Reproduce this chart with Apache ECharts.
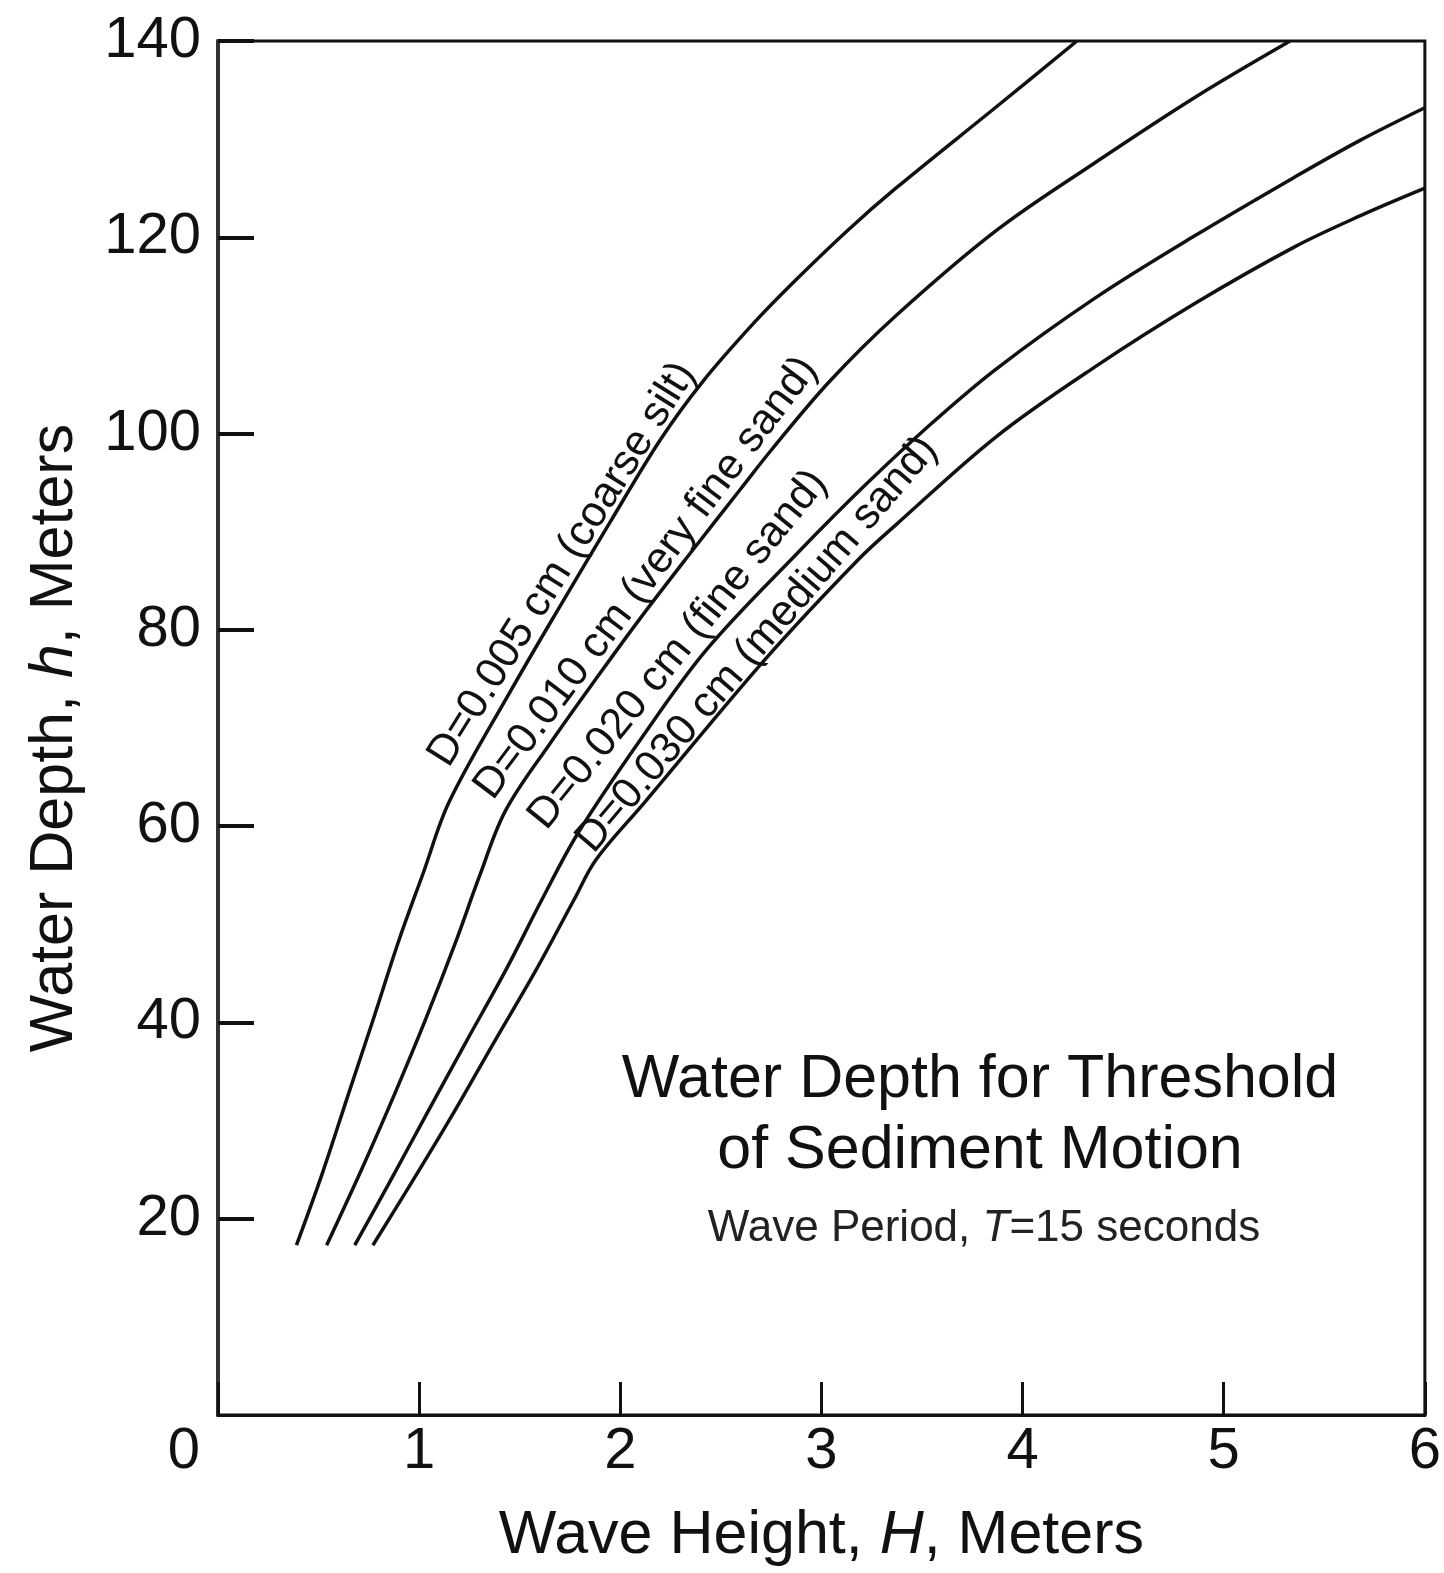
<!DOCTYPE html>
<html><head><meta charset="utf-8">
<script src="https://cdn.jsdelivr.net/npm/echarts@6/dist/echarts.min.js"></script>
<style>html,body{margin:0;padding:0;background:#fff}#c{width:1444px;height:1573px}</style>
</head><body><div id="c"></div>
<script>
const FONT = '"Liberation Sans", Arial, Helvetica, sans-serif';

// Curve names (labels written along each curve)
const curveNames = [
  'D=0.005 cm (coarse silt)',
  'D=0.010 cm (very fine sand)',
  'D=0.020 cm (fine sand)',
  'D=0.030 cm (medium sand)'
];

// Wave height H (m) and water depth h (m)
const H_005 = [0.39, 0.52, 0.65, 0.77, 0.90, 1.02, 1.15, 1.45, 1.70, 1.95, 2.20, 2.41, 2.67, 2.88, 3.13, 3.37, 3.87, 4.27];
const h_005 = [17.3, 24.7, 32.8, 40.2, 48.4, 55.2, 62.5, 73.6, 82.4, 91.0, 99.4, 105.3, 111.4, 115.8, 120.7, 125.0, 133.3, 140];

const H_010 = [0.54, 0.72, 0.88, 1.03, 1.18, 1.30, 1.43, 1.65, 1.90, 2.10, 2.34, 2.60, 2.75, 3.04, 3.37, 3.87, 4.36, 4.86, 5.33];
const h_010 = [17.3, 25.3, 32.8, 40.2, 48.1, 54.9, 61.6, 68.4, 75.6, 81.2, 87.6, 94.4, 98.3, 105.3, 112.0, 120.7, 127.6, 134.3, 140];

const H_020 = [0.68, 0.85, 1.03, 1.23, 1.43, 1.61, 1.79, 2.10, 2.43, 2.88, 3.21, 3.54, 3.87, 4.36, 4.86, 5.35, 5.68, 6.0];
const h_020 = [17.3, 23.6, 30.4, 37.9, 45.3, 52.5, 59.3, 68.8, 78.0, 87.8, 94.6, 100.9, 106.6, 113.8, 120.2, 126.1, 129.9, 133.2];

const H_030 = [0.77, 0.96, 1.16, 1.37, 1.58, 1.77, 1.88, 2.12, 2.72, 3.18, 3.37, 3.87, 4.36, 4.86, 5.35, 5.68, 6.0];
const h_030 = [17.3, 23.6, 30.4, 37.9, 45.3, 52.5, 56.6, 62.4, 77.0, 87.1, 90.7, 99.7, 106.8, 113.3, 119.0, 122.2, 125.0];

// Axis ranges / ticks
const xRange = [0, 6], xStep = 1;
const yRange = [0, 140], yStep = 20;

// Where each curve label starts (data coords), its angle (deg) and its gap to the curve (px)
const labelStart = [[1.157, 65.7], [1.40, 62.0], [1.642, 59.3], [1.899, 56.55]];
const labelAngle = [58, 53, 51, 49.5];
const labelGap = [0, 6, 0, 6];

const titleLines = ['Water Depth for Threshold', 'of Sediment Motion'];

const curvesH = [H_005, H_010, H_020, H_030];
const curvesh = [h_005, h_010, h_020, h_030];

const chart = echarts.init(document.getElementById('c'), null, {renderer: 'canvas'});
const INK = '#111';

const option = {
  animation: false,
  backgroundColor: '#fff',
  grid: {left: 218, right: 13, top: 41, bottom: 158, show: true, borderColor: INK, borderWidth: 3, containLabel: false},
  xAxis: {
    type: 'value', min: xRange[0], max: xRange[1], interval: xStep,
    name: '{n|Wave Height, }{i|H}{n|, Meters}', nameLocation: 'middle', nameGap: 91,
    nameTextStyle: {fontFamily: FONT, fontSize: 61, color: INK,
      rich: {n: {fontFamily: FONT, fontSize: 61, color: INK}, i: {fontFamily: FONT, fontSize: 61, color: INK, fontStyle: 'italic'}}},
    axisLine: {show: true, onZero: false, lineStyle: {color: INK, width: 3}},
    axisTick: {show: true, inside: true, length: 33, lineStyle: {color: INK, width: 3}},
    splitLine: {show: false},
    axisLabel: {fontFamily: FONT, fontSize: 58, color: INK, margin: 8,
      formatter: v => v === 0 ? '{z|0}' : String(v),
      rich: {z: {fontFamily: FONT, fontSize: 58, color: INK, padding: [0, 68, 0, 0]}}}
  },
  yAxis: {
    type: 'value', min: yRange[0], max: yRange[1], interval: yStep,
    name: '{n|Water Depth, }{i|h}{n|, Meters}', nameLocation: 'middle', nameGap: 132, nameRotate: 90,
    nameTextStyle: {fontFamily: FONT, fontSize: 61, color: INK, padding: [0, 20, 0, 0],
      rich: {n: {fontFamily: FONT, fontSize: 61, color: INK}, i: {fontFamily: FONT, fontSize: 61, color: INK, fontStyle: 'italic'}}},
    axisLine: {show: true, onZero: false, lineStyle: {color: '#333', width: 4}},
    axisTick: {show: true, inside: true, length: 36, lineStyle: {color: INK, width: 4}},
    splitLine: {show: false},
    axisLabel: {fontFamily: FONT, fontSize: 58, color: INK, margin: 17, showMinLabel: false}
  },
  series: curveNames.map((name, k) => ({
    name: name, type: 'line', showSymbol: false, smooth: 0.35,
    lineStyle: {color: INK, width: 3.5}, clip: true,
    data: curvesH[k].map((x, i) => [x, curvesh[k][i]])
  }))
};
chart.setOption(option);

function placeText() {
  const g = [];
  const descent = 7;
  curveNames.forEach((t, k) => {
    const p = chart.convertToPixel({gridIndex: 0}, labelStart[k]);
    const a = labelAngle[k] * Math.PI / 180;
    const s = descent - labelGap[k];
    g.push({type: 'text', x: p[0] + Math.sin(a) * s, y: p[1] + Math.cos(a) * s, rotation: a, z: 10,
      style: {text: t, fontFamily: FONT, fontSize: 43, fill: INK, align: 'left', verticalAlign: 'bottom'}});
  });
  g.push({type: 'text', x: 980, y: 1080, z: 10,
    style: {text: titleLines[0], fontFamily: FONT, fontSize: 61, fill: INK, align: 'center', verticalAlign: 'middle'}});
  g.push({type: 'text', x: 980, y: 1151, z: 10,
    style: {text: titleLines[1], fontFamily: FONT, fontSize: 61, fill: INK, align: 'center', verticalAlign: 'middle'}});
  g.push({type: 'text', x: 984, y: 1229, z: 10,
    style: {text: '{n|Wave Period, }{i|T}{n|=15 seconds}', align: 'center', verticalAlign: 'middle',
      rich: {n: {fontFamily: FONT, fontSize: 44, fill: '#222'}, i: {fontFamily: FONT, fontSize: 44, fill: '#222', fontStyle: 'italic'}}}});
  chart.setOption({graphic: g});
}
placeText();
</script></body></html>
